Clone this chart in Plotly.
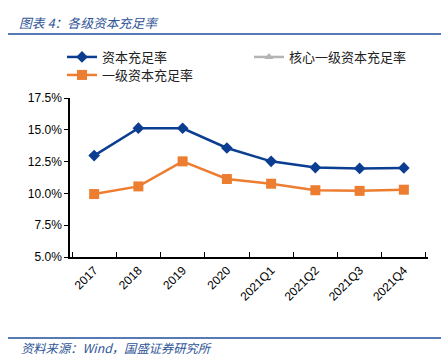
import plotly.graph_objects as go

categories = ["2017", "2018", "2019", "2020", "2021Q1", "2021Q2", "2021Q3", "2021Q4"]
capital_adequacy = [12.97, 15.13, 15.12, 13.57, 12.52, 12.03, 11.96, 12.00]
core_tier1 = [None] * 8
tier1 = [9.95, 10.55, 12.52, 11.13, 10.76, 10.25, 10.20, 10.29]

BLUE = "#0B3D91"
ORANGE = "#ED7D31"
GRAY = "#B4B4B4"
FONT = "Liberation Sans, Noto Sans CJK SC, sans-serif"

L, R, T, B = 70, 16, 98, 100
W, H = 444, 357
pw, ph = W - L - R, H - T - B

def px(X):
    return (X - L) / pw

def py(Y):
    return (H - B - Y) / ph

fig = go.Figure()
fig.add_trace(go.Scatter(x=categories, y=capital_adequacy, name="资本充足率", mode="lines+markers",
                         line=dict(color=BLUE, width=2.5),
                         marker=dict(symbol="diamond", size=9, color=BLUE)))
fig.add_trace(go.Scatter(x=categories, y=core_tier1, name="核心一级资本充足率", mode="lines+markers",
                         line=dict(color=GRAY, width=2.5),
                         marker=dict(symbol="triangle-up", size=8, color=GRAY)))
fig.add_trace(go.Scatter(x=categories, y=tier1, name="一级资本充足率", mode="lines+markers",
                         line=dict(color=ORANGE, width=2.5), legend="legend2",
                         marker=dict(symbol="square", size=10, color=ORANGE)))

legend_common = dict(orientation="h", xanchor="left", yanchor="top",
                     entrywidth=142, entrywidthmode="pixels", itemwidth=30,
                     font=dict(size=13, family="Noto Sans CJK SC", color="#222"), tracegroupgap=0,
                     bgcolor="rgba(0,0,0,0)")

fig.update_layout(
    width=W, height=H,
    margin=dict(l=L, r=R, t=T, b=B, autoexpand=False),
    paper_bgcolor="white", plot_bgcolor="white",
    font=dict(family=FONT, size=12, color="#000"),
    showlegend=True,
    legend=dict(x=px(62), y=py(42), **legend_common),
    legend2=dict(x=px(62), y=py(60), **legend_common),
    xaxis=dict(type="category", showline=True, linecolor="#000", linewidth=1.5,
               ticks="inside", ticklen=5, tickcolor="#000", tickson="boundaries",
               tickangle=-45, showgrid=False, tickfont=dict(size=12)),
    yaxis=dict(range=[5, 17.5], dtick=2.5, tickformat=".1f", ticksuffix="%",
               showline=True, linecolor="#000", linewidth=1.5, ticks="outside", ticklen=4,
               tickcolor="#000", showgrid=False, zeroline=False, tickfont=dict(size=12)),
    shapes=[
        dict(type="line", xref="paper", yref="paper", x0=px(8), x1=px(441), y0=py(34), y1=py(34),
             line=dict(color="#1F4E9C", width=1.5)),
        dict(type="line", xref="paper", yref="paper", x0=px(8), x1=px(441), y0=py(338), y1=py(338),
             line=dict(color="#1F4E9C", width=1.5)),
    ],
    annotations=[
        dict(text="<i>图表 4：各级资本充足率</i>", xref="paper", yref="paper", x=px(17), y=py(22),
             xanchor="left", yanchor="middle", showarrow=False,
             font=dict(size=12.8, color="#2F5597", family="Noto Sans CJK SC")),
        dict(text="<i>资料来源：Wind，国盛证券研究所</i>", xref="paper", yref="paper", x=px(19), y=py(348),
             xanchor="left", yanchor="middle", showarrow=False,
             font=dict(size=12.3, color="#2F5597", family="Noto Sans CJK SC")),
    ],
)

fig.write_html("out.html", config={"displayModeBar": False},
               post_script="document.body.style.margin='0';document.body.style.overflow='hidden';")
